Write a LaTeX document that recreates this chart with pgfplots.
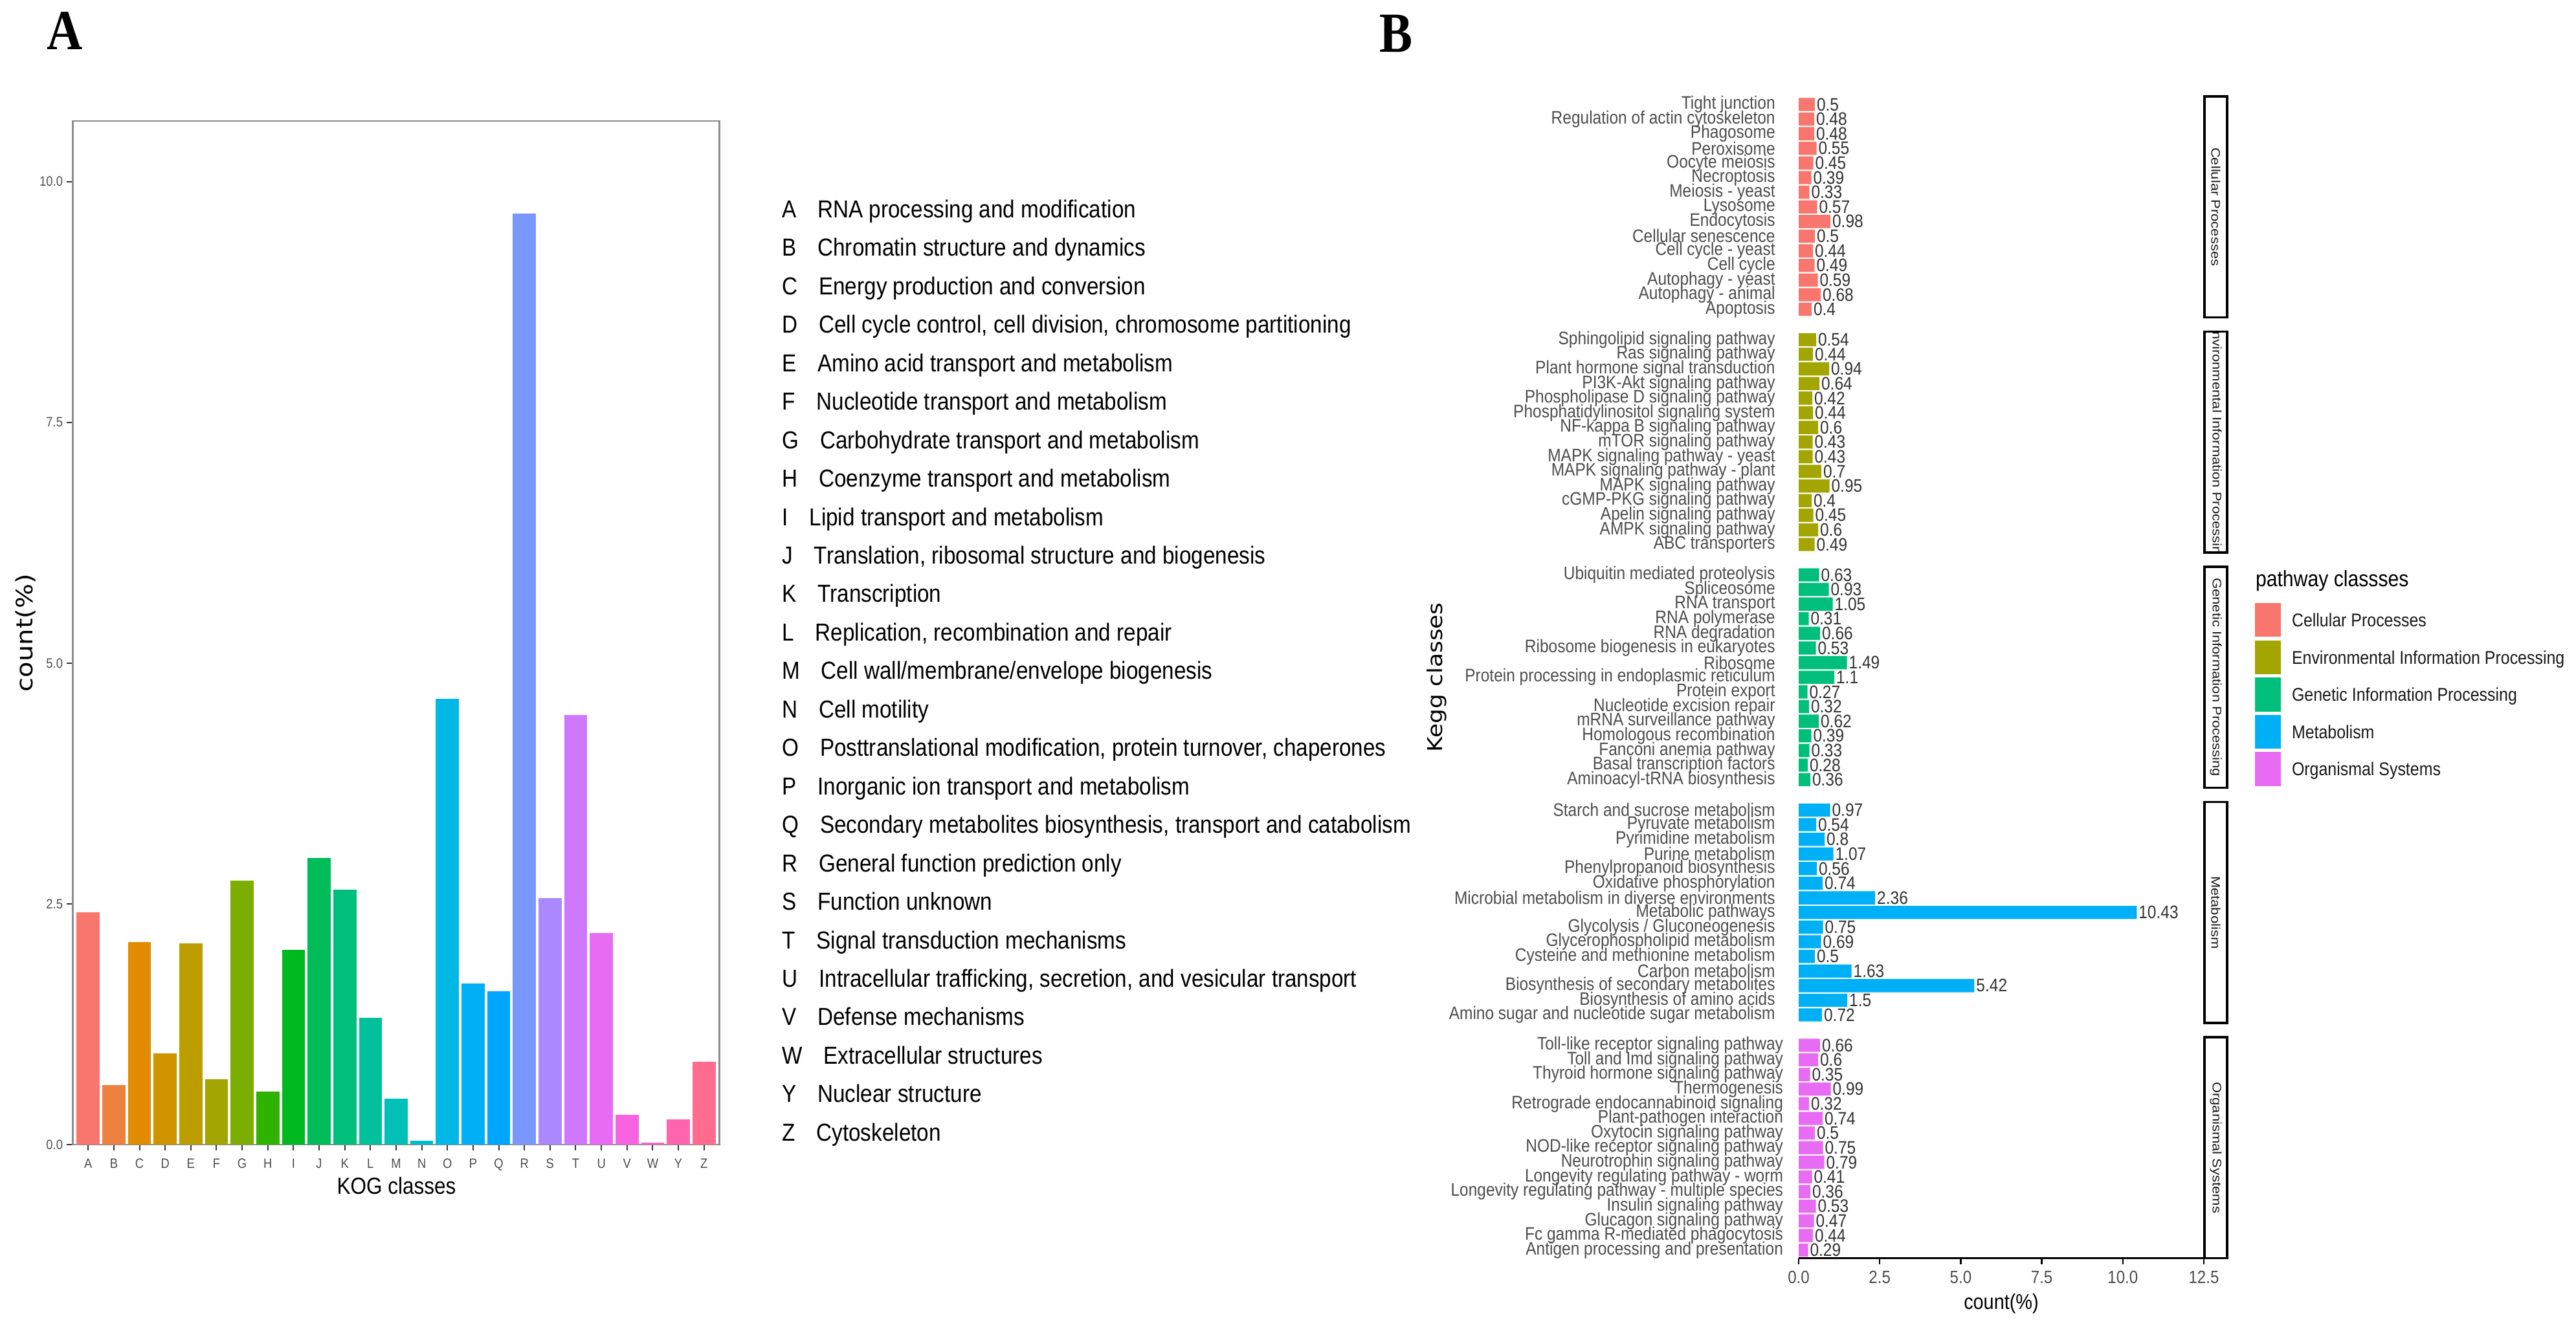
\documentclass[border=0pt]{standalone}
\usepackage{pgfplots}
\pgfplotsset{compat=1.18}
\usepackage{fontspec}
\setmainfont[FakeStretch=0.875]{Liberation Sans}
\newfontfamily\plainsans{Liberation Sans}
\newfontfamily\dejavu{DejaVu Sans}
\newfontfamily\timesf[FakeStretch=0.875]{Liberation Serif}
\newcommand{\fsz}[1]{\fontsize{#1}{#1}\selectfont}

% ggplot hue palette, 25 levels
\definecolor{kA}{HTML}{F8766D}\definecolor{kB}{HTML}{ED8141}
\definecolor{kC}{HTML}{E08B00}\definecolor{kD}{HTML}{CF9400}
\definecolor{kE}{HTML}{BB9D00}\definecolor{kF}{HTML}{A3A500}
\definecolor{kG}{HTML}{7BAE00}\definecolor{kH}{HTML}{2DB300}
\definecolor{kI}{HTML}{00B81F}\definecolor{kJ}{HTML}{00BC59}
\definecolor{kK}{HTML}{00BF7D}\definecolor{kL}{HTML}{00C19C}
\definecolor{kM}{HTML}{00C0B8}\definecolor{kN}{HTML}{00BDD0}
\definecolor{kO}{HTML}{00B8E5}\definecolor{kP}{HTML}{00B0F6}
\definecolor{kQ}{HTML}{00A5FF}\definecolor{kR}{HTML}{7997FF}
\definecolor{kS}{HTML}{AC88FF}\definecolor{kT}{HTML}{CF78FF}
\definecolor{kU}{HTML}{E76BF3}\definecolor{kV}{HTML}{F763E0}
\definecolor{kW}{HTML}{FF61C9}\definecolor{kY}{HTML}{FF65AE}
\definecolor{kZ}{HTML}{FF6C90}
% pathway classes
\definecolor{pCP}{HTML}{F8766D}\definecolor{pEI}{HTML}{A3A500}
\definecolor{pGI}{HTML}{00BF7D}\definecolor{pME}{HTML}{00B0F6}
\definecolor{pOS}{HTML}{E76BF3}
\definecolor{axtext}{HTML}{4D4D4D}

\newcommand{\kb}[3]{\addplot[ybar, bar shift=0pt, bar width=0.9, fill=#1, draw=none] coordinates {(#2,#3)};}
\newcommand{\kog}[3]{\node[anchor=base west, inner sep=0pt] at (241.4pt, {343.3pt-11.89pt*#1}) {\fsz{7.6pt}#2\hspace{6.66pt}#3};}

\pgfplotsset{
  facet/.style={
    scale only axis, width=125.2pt, height=68.3pt, anchor=south west,
    xmin=0, xmax=12.5, ymin=0.45, ymax=15.55,
    axis lines*=left, y axis line style={draw=none},
    ytick={1,...,15}, ytick style={draw=none},
    yticklabel style={font=\fsz{5.6pt}, text=axtext, inner sep=0pt, xshift=-2.8pt},
    xbar, bar width=0.9,
    point meta=explicit symbolic, nodes near coords,
    every node near coord/.append style={font=\fsz{5.6pt}, text=black!80, anchor=west, inner xsep=0.4pt, inner ysep=0pt},
    clip=false,
  },
}

\begin{document}
\begin{tikzpicture}
\path[use as bounding box] (0,0) rectangle (796pt,410.6pt);

% ---------------- panel A ----------------
\node[anchor=base west, inner sep=0pt] at (14.3pt,395.3pt) {\timesf\bfseries\fsz{17.5pt}A};
\begin{axis}[
  at={(22.5pt,56.8pt)}, anchor=south west,
  scale only axis, width=199.8pt, height=316.4pt,
  xmin=0.4, xmax=25.6, ymin=0, ymax=10.63,
  xtick={1,...,25},
  xticklabels={A,B,C,D,E,F,G,H,I,J,K,L,M,N,O,P,Q,R,S,T,U,V,W,Y,Z},
  ytick={0,2.5,5,7.5,10},
  tick align=outside, major tick length=1.8pt,
  xtick pos=left, ytick pos=left,
  tick style={black!80, line width=0.4pt},
  axis line style={black!45, line width=0.5pt},
  ticklabel style={font=\fsz{4.2pt}, text=axtext, inner sep=0pt},
  xticklabel style={yshift=-2.4pt},
  yticklabel style={xshift=-1.1pt, /pgf/number format/fixed, /pgf/number format/fixed zerofill,
    /pgf/number format/precision=1, /pgf/number format/assume math mode=true},
]
\kb{kA}{1}{2.41}
\kb{kB}{2}{0.62}
\kb{kC}{3}{2.10}
\kb{kD}{4}{0.95}
\kb{kE}{5}{2.09}
\kb{kF}{6}{0.68}
\kb{kG}{7}{2.74}
\kb{kH}{8}{0.55}
\kb{kI}{9}{2.02}
\kb{kJ}{10}{2.98}
\kb{kK}{11}{2.65}
\kb{kL}{12}{1.32}
\kb{kM}{13}{0.48}
\kb{kN}{14}{0.04}
\kb{kO}{15}{4.63}
\kb{kP}{16}{1.67}
\kb{kQ}{17}{1.59}
\kb{kR}{18}{9.67}
\kb{kS}{19}{2.56}
\kb{kT}{20}{4.46}
\kb{kU}{21}{2.20}
\kb{kV}{22}{0.31}
\kb{kW}{23}{0.02}
\kb{kY}{24}{0.26}
\kb{kZ}{25}{0.86}
\end{axis}
\node[rotate=90] at (8pt,215pt) {\scalebox{1}[0.875]{\dejavu\fsz{8pt}count(\%)}};
\node[anchor=base, inner sep=0pt] at (122.5pt,41.6pt) {\fsz{7.2pt}KOG classes};

\kog{0}{A}{RNA processing and modification}
\kog{1}{B}{Chromatin structure and dynamics}
\kog{2}{C}{Energy production and conversion}
\kog{3}{D}{Cell cycle control, cell division, chromosome partitioning}
\kog{4}{E}{Amino acid transport and metabolism}
\kog{5}{F}{Nucleotide transport and metabolism}
\kog{6}{G}{Carbohydrate transport and metabolism}
\kog{7}{H}{Coenzyme transport and metabolism}
\kog{8}{I}{Lipid transport and metabolism}
\kog{9}{J}{Translation, ribosomal structure and biogenesis}
\kog{10}{K}{Transcription}
\kog{11}{L}{Replication, recombination and repair}
\kog{12}{M}{Cell wall/membrane/envelope biogenesis}
\kog{13}{N}{Cell motility}
\kog{14}{O}{Posttranslational modification, protein turnover, chaperones}
\kog{15}{P}{Inorganic ion transport and metabolism}
\kog{16}{Q}{Secondary metabolites biosynthesis, transport and catabolism}
\kog{17}{R}{General function prediction only}
\kog{18}{S}{Function unknown}
\kog{19}{T}{Signal transduction mechanisms}
\kog{20}{U}{Intracellular trafficking, secretion, and vesicular transport}
\kog{21}{V}{Defense mechanisms}
\kog{22}{W}{Extracellular structures}
\kog{23}{Y}{Nuclear structure}
\kog{24}{Z}{Cytoskeleton}

% ---------------- panel B ----------------
\node[anchor=base west, inner sep=0pt] at (426pt,394.5pt) {\timesf\bfseries\fsz{17.5pt}B};

\begin{axis}[facet, at={(555.8pt,312.5pt)}, hide x axis,
  yticklabels={Apoptosis, Autophagy - animal, Autophagy - yeast, Cell cycle, Cell cycle - yeast,
    Cellular senescence, Endocytosis, Lysosome, Meiosis - yeast, Necroptosis, Oocyte meiosis,
    Peroxisome, Phagosome, Regulation of actin cytoskeleton, Tight junction}]
\addplot[fill=pCP, draw=none] coordinates {
  (0.4,1)[0.4] (0.68,2)[0.68] (0.59,3)[0.59] (0.49,4)[0.49] (0.44,5)[0.44]
  (0.5,6)[0.5] (0.98,7)[0.98] (0.57,8)[0.57] (0.33,9)[0.33] (0.39,10)[0.39]
  (0.45,11)[0.45] (0.55,12)[0.55] (0.48,13)[0.48] (0.48,14)[0.48] (0.5,15)[0.5]};
\end{axis}

\begin{axis}[facet, at={(555.8pt,239.8pt)}, hide x axis,
  yticklabels={ABC transporters, AMPK signaling pathway, Apelin signaling pathway,
    cGMP-PKG signaling pathway, MAPK signaling pathway, MAPK signaling pathway - plant,
    MAPK signaling pathway - yeast, mTOR signaling pathway, NF-kappa B signaling pathway,
    Phosphatidylinositol signaling system, Phospholipase D signaling pathway,
    PI3K-Akt signaling pathway, Plant hormone signal transduction, Ras signaling pathway,
    Sphingolipid signaling pathway}]
\addplot[fill=pEI, draw=none] coordinates {
  (0.49,1)[0.49] (0.6,2)[0.6] (0.45,3)[0.45] (0.4,4)[0.4] (0.95,5)[0.95]
  (0.7,6)[0.7] (0.43,7)[0.43] (0.43,8)[0.43] (0.6,9)[0.6] (0.44,10)[0.44]
  (0.42,11)[0.42] (0.64,12)[0.64] (0.94,13)[0.94] (0.44,14)[0.44] (0.54,15)[0.54]};
\end{axis}

\begin{axis}[facet, at={(555.8pt,167.1pt)}, hide x axis,
  yticklabels={Aminoacyl-tRNA biosynthesis, Basal transcription factors, Fanconi anemia pathway,
    Homologous recombination, mRNA surveillance pathway, Nucleotide excision repair,
    Protein export, Protein processing in endoplasmic reticulum, Ribosome,
    Ribosome biogenesis in eukaryotes, RNA degradation, RNA polymerase, RNA transport,
    Spliceosome, Ubiquitin mediated proteolysis}]
\addplot[fill=pGI, draw=none] coordinates {
  (0.36,1)[0.36] (0.28,2)[0.28] (0.33,3)[0.33] (0.39,4)[0.39] (0.62,5)[0.62]
  (0.32,6)[0.32] (0.27,7)[0.27] (1.1,8)[1.1] (1.49,9)[1.49] (0.53,10)[0.53]
  (0.66,11)[0.66] (0.31,12)[0.31] (1.05,13)[1.05] (0.93,14)[0.93] (0.63,15)[0.63]};
\end{axis}

\begin{axis}[facet, at={(555.8pt,94.4pt)}, hide x axis,
  yticklabels={Amino sugar and nucleotide sugar metabolism, Biosynthesis of amino acids,
    Biosynthesis of secondary metabolites, Carbon metabolism, Cysteine and methionine metabolism,
    Glycerophospholipid metabolism, Glycolysis / Gluconeogenesis, Metabolic pathways,
    Microbial metabolism in diverse environments, Oxidative phosphorylation,
    Phenylpropanoid biosynthesis, Purine metabolism, Pyrimidine metabolism,
    Pyruvate metabolism, Starch and sucrose metabolism}]
\addplot[fill=pME, draw=none] coordinates {
  (0.72,1)[0.72] (1.5,2)[1.5] (5.42,3)[5.42] (1.63,4)[1.63] (0.5,5)[0.5]
  (0.69,6)[0.69] (0.75,7)[0.75] (10.43,8)[10.43] (2.36,9)[2.36] (0.74,10)[0.74]
  (0.56,11)[0.56] (1.07,12)[1.07] (0.8,13)[0.8] (0.54,14)[0.54] (0.97,15)[0.97]};
\end{axis}

\begin{axis}[facet, at={(555.8pt,21.7pt)},
  xtick={0,2.5,5,7.5,10,12.5},
  major tick length=1.8pt,
  x axis line style={black, line width=0.6pt},
  xtick style={black, line width=0.5pt, yshift=-1.8pt},
  xticklabel style={font=\fsz{5.5pt}, text=axtext, inner sep=0pt, yshift=-3.8pt,
    /pgf/number format/fixed, /pgf/number format/fixed zerofill,
    /pgf/number format/precision=1, /pgf/number format/assume math mode=true},
  yticklabels={Antigen processing and presentation, Fc gamma R-mediated phagocytosis,
    Glucagon signaling pathway, Insulin signaling pathway,
    Longevity regulating pathway - multiple species, Longevity regulating pathway - worm,
    Neurotrophin signaling pathway, NOD-like receptor signaling pathway,
    Oxytocin signaling pathway, Plant-pathogen interaction,
    Retrograde endocannabinoid signaling, Thermogenesis, Thyroid hormone signaling pathway,
    Toll and Imd signaling pathway, Toll-like receptor signaling pathway}]
\addplot[fill=pOS, draw=none] coordinates {
  (0.29,1)[0.29] (0.44,2)[0.44] (0.47,3)[0.47] (0.53,4)[0.53] (0.36,5)[0.36]
  (0.41,6)[0.41] (0.79,7)[0.79] (0.75,8)[0.75] (0.5,9)[0.5] (0.74,10)[0.74]
  (0.32,11)[0.32] (0.99,12)[0.99] (0.35,13)[0.35] (0.6,14)[0.6] (0.66,15)[0.66]};
\end{axis}

\node[anchor=base, inner sep=0pt] at (618.4pt,6pt) {\fsz{6.6pt}count(\%)};
\node[rotate=90] at (444pt,201.2pt) {\scalebox{1}[0.875]{\dejavu\fsz{7.2pt}Kegg classes}};

% facet strips
\foreach \k/\lab in {0/Cellular Processes, 1/Environmental Information Processing,
    2/Genetic Information Processing, 3/Metabolism, 4/Organismal Systems} {
  \pgfmathsetmacro{\yt}{380.8-72.7*\k}
  \pgfmathsetmacro{\yb}{\yt-68.3}
  \pgfmathsetmacro{\ym}{\yt-34.15}
  \begin{scope}
    \clip (681.2pt,\yb pt) rectangle (688.2pt,\yt pt);
    \node[rotate=-90, text=black!90] at (684.7pt,\ym pt)
      {\scalebox{1}[0.875]{\plainsans\fsz{4.4pt}\lab}};
  \end{scope}
  \draw[black, line width=0.7pt] (681.2pt,\yb pt) rectangle (688.2pt,\yt pt);
}

% legend
\node[anchor=base west, inner sep=0pt] at (696.8pt,229.2pt) {\fsz{6.9pt}pathway classses};
\foreach \i/\c/\lab in {0/pCP/Cellular Processes, 1/pEI/Environmental Information Processing,
    2/pGI/Genetic Information Processing, 3/pME/Metabolism, 4/pOS/Organismal Systems} {
  \pgfmathsetmacro{\kt}{224.2-11.52*\i}
  \pgfmathsetmacro{\kbase}{216.92-11.52*\i}
  \fill[\c] (696.8pt,\kt pt) rectangle (704.7pt,\kt pt-10.48pt);
  \node[anchor=base west, inner sep=0pt, text=black!90] at (708pt,\kbase pt) {\fsz{5.7pt}\lab};
}
\end{tikzpicture}
\end{document}
